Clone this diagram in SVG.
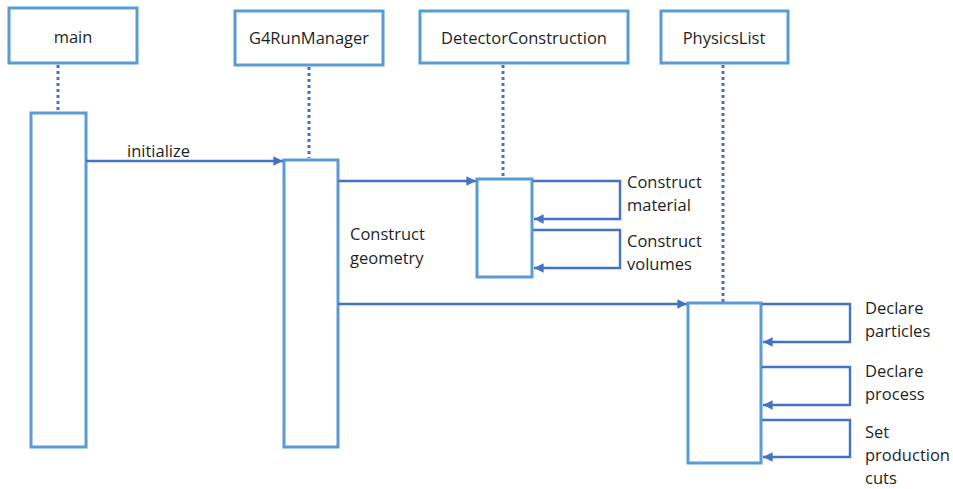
<svg xmlns="http://www.w3.org/2000/svg" width="953" height="489" viewBox="0 0 953 489">
  <style>
    .box { fill: #ffffff; stroke: #5B9BD5; stroke-width: 3; }
    .life { fill: none; stroke: #4472C4; stroke-width: 3; stroke-dasharray: 3 3; }
    .msg { fill: none; stroke: #4472C4; stroke-width: 2.4; }
    text { font-family: "Open Sans", "Noto Sans", "Liberation Sans", sans-serif; font-size: 16.5px; fill: #1f1f1f; }
    .c { text-anchor: middle; }
  </style>
  <defs>
    <marker id="arrow" viewBox="0 0 10 10" refX="10" refY="5" markerWidth="4.6" markerHeight="4" markerUnits="strokeWidth" orient="auto">
      <path d="M0,0 L10,5 L0,10 Z" fill="#4472C4"/>
    </marker>
  </defs>
  <rect width="953" height="489" fill="#ffffff"/>

  <!-- lifelines -->
  <g id="lifelines">
    <line class="life" x1="58" y1="65" x2="58" y2="112"/>
    <line class="life" x1="309" y1="67" x2="309" y2="158"/>
    <line class="life" x1="503" y1="65" x2="503" y2="178"/>
    <line class="life" x1="723" y1="65" x2="723" y2="302"/>
  </g>

  <g id="main">
    <rect class="box" x="9" y="8" width="128" height="55"/>
    <text class="c" x="73" y="43">main</text>
    <rect class="box" x="31" y="113" width="55" height="334"/>
  </g>

  <g id="G4RunManager">
    <rect class="box" x="235" y="11" width="148" height="54"/>
    <text class="c" x="309" y="44">G4RunManager</text>
    <rect class="box" x="284" y="160" width="54" height="287"/>
  </g>

  <g id="DetectorConstruction">
    <rect class="box" x="420" y="11" width="208" height="52"/>
    <text class="c" x="524" y="44">DetectorConstruction</text>
    <rect class="box" x="477" y="179" width="55" height="98"/>
  </g>

  <g id="PhysicsList">
    <rect class="box" x="661" y="11" width="127" height="52"/>
    <text class="c" x="724" y="44">PhysicsList</text>
    <rect class="box" x="688" y="303" width="73" height="160"/>
  </g>

  <!-- messages -->
  <g id="connectors">
    <path class="msg" d="M86,161 H283" marker-end="url(#arrow)"/>
    <path class="msg" d="M338,181 H476" marker-end="url(#arrow)"/>
    <path class="msg" d="M338,304 H687" marker-end="url(#arrow)"/>

    <path class="msg" d="M533,181 H620 V219 H534" marker-end="url(#arrow)"/>
    <path class="msg" d="M533,230 H620 V268 H534" marker-end="url(#arrow)"/>

    <path class="msg" d="M762,304 H850 V342 H763" marker-end="url(#arrow)"/>
    <path class="msg" d="M762,367 H850 V405 H763" marker-end="url(#arrow)"/>
    <path class="msg" d="M762,420 H850 V457 H763" marker-end="url(#arrow)"/>
  </g>

  <g id="labels">
    <text x="127" y="157">initialize</text>
    <text x="350" y="240">Construct</text>
    <text x="350" y="264">geometry</text>
    <text x="627" y="188">Construct</text>
    <text x="627" y="211">material</text>
    <text x="627" y="247">Construct</text>
    <text x="627" y="270">volumes</text>
    <text x="865" y="314">Declare</text>
    <text x="865" y="337">particles</text>
    <text x="865" y="377">Declare</text>
    <text x="865" y="400">process</text>
    <text x="865" y="438">Set</text>
    <text x="865" y="461">production</text>
    <text x="865" y="484">cuts</text>
  </g>
</svg>
